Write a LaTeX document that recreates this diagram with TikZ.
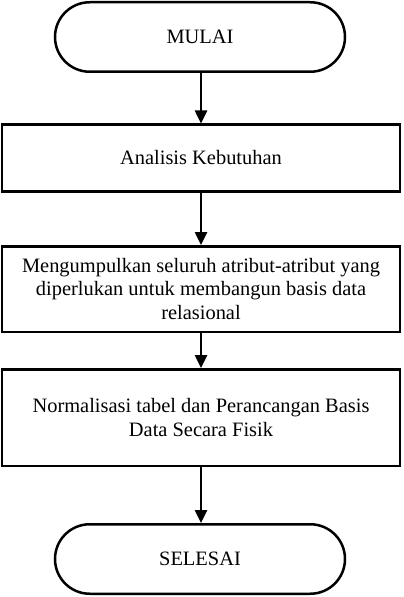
\documentclass[tikz,border=0pt]{standalone}
\usepackage{fontspec}
\setmainfont{Liberation Serif}
\usetikzlibrary{shapes.misc,arrows.meta}
\begin{document}
\begin{tikzpicture}[x=1bp, y=1bp, line width=2.5bp,
	every node/.style={draw, align=center, inner sep=0pt, font=\fontsize{20.5}{24}\selectfont},
	terminal/.style={rounded rectangle, minimum width=290bp, minimum height=69.5bp},
	process/.style={rectangle, minimum width=397.5bp},
	flow/.style={-{Triangle[width=12bp,length=13bp]}}]
	\useasboundingbox (0,0) rectangle (403,-597);
	
	% Nodes
	\node[terminal] (mulai) at (200,-37) {MULAI};
	\node[process, minimum height=66.5bp] (analisis) at (201,-158) {Analisis Kebutuhan};
	\node[process, minimum height=85.5bp] (atribut) at (201,-289) {Mengumpulkan seluruh atribut-atribut yang\\diperlukan untuk membangun basis data\\relasional};
	\node[process, minimum height=96.5bp] (normal) at (201,-417.5) {Normalisasi tabel dan Perancangan Basis\\Data Secara Fisik};
	\node[terminal] (selesai) at (200,-559) {SELESAI};
	
	% Edges
	\draw[flow] (mulai.south -| analisis) -- (analisis.north);
	\draw[flow] (analisis.south) -- (atribut.north);
	\draw[flow] (atribut.south) -- (normal.north);
	\draw[flow] (normal.south) -- (selesai.north -| normal);
	
\end{tikzpicture}
\end{document}
